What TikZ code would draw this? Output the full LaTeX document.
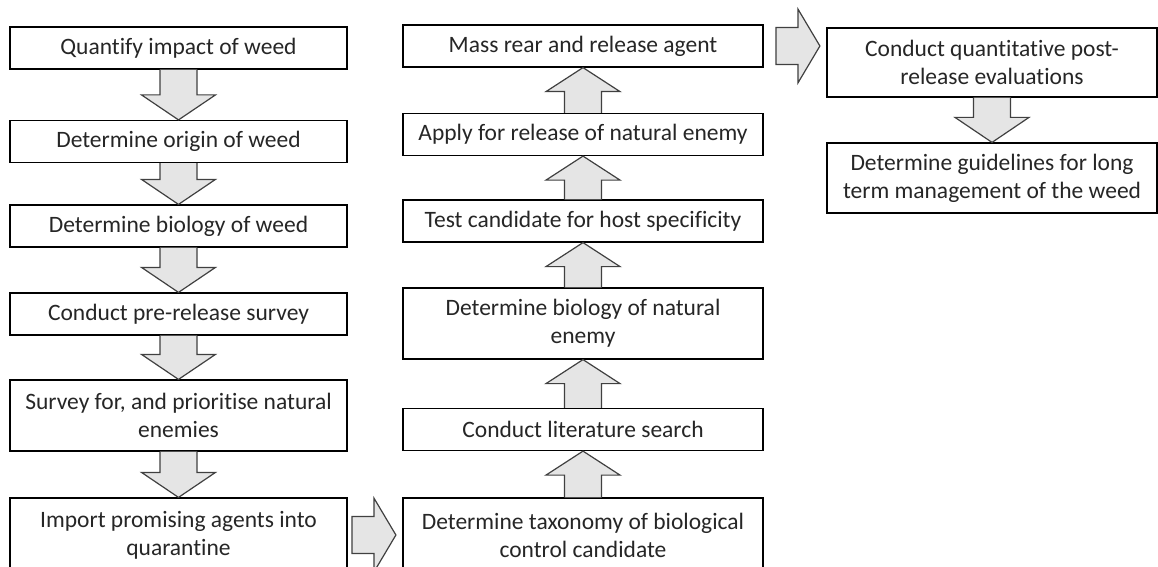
\documentclass[tikz,border=0pt]{standalone}
\usepackage{fontspec}
\setmainfont{Carlito}[Ligatures=NoCommon]
\usetikzlibrary{calc}

\tikzset{
	stage/.style={draw=black, line width=1.2pt, fill=white, align=center,
		minimum height=42pt, inner sep=2pt, text=black!85,
		font=\fontsize{23.5}{28}\selectfont},
	lstage/.style={stage, minimum width=337pt},
	mstage/.style={stage, minimum width=360pt},
	rstage/.style={stage, minimum width=330pt},
	blk/.style={draw=black!75, fill=black!10, line width=1.2pt, line join=miter},
}

% block arrows between boxes
\newcommand{\blkdown}[2]{%
	\filldraw[blk] ($(#1.south)+(-18.5,0)$) -- ($(#2.north)+(-18.5,25)$) -- ($(#2.north)+(-37,25)$)
		-- (#2.north) -- ($(#2.north)+(37,25)$) -- ($(#2.north)+(18.5,25)$) -- ($(#1.south)+(18.5,0)$);}
\newcommand{\blkup}[2]{%
	\filldraw[blk] ($(#1.north)+(-18.5,0)$) -- ($(#2.south)+(-18.5,-24)$) -- ($(#2.south)+(-37,-24)$)
		-- (#2.south) -- ($(#2.south)+(37,-24)$) -- ($(#2.south)+(18.5,-24)$) -- ($(#1.north)+(18.5,0)$);}
\newcommand{\blkright}[2]{%
	\coordinate (tip) at ($(#1.east -| #2.west)+(-6.5,0)$);
	\filldraw[blk] ($(tip)+(-44,18.5)$) -- ($(tip)+(-22,18.5)$) -- ($(tip)+(-22,37)$) -- (tip)
		-- ($(tip)+(-22,-37)$) -- ($(tip)+(-22,-18.5)$) -- ($(tip)+(-44,-18.5)$) -- cycle;}

\begin{document}
\begin{tikzpicture}[x=1pt, y=1pt]
	\useasboundingbox (0,0) rectangle (1158,566);
	\clip (0,0) rectangle (1158,566);

	% left column
	\node[lstage] (qimpact) at (178.5,518) {Quantify impact of weed};
	\node[lstage] (origin) at (178.5,424.5) {Determine origin of weed};
	\node[lstage] (weedbio) at (178.5,340) {Determine biology of weed};
	\node[lstage] (presurvey) at (178.5,252) {Conduct pre-release survey};
	\node[lstage, minimum height=71pt] (prioritise) at (178.5,150.5) {Survey for, and prioritise natural\\enemies};
	\node[lstage, minimum height=74pt] (import) at (178.5,31) {Import promising agents into\\quarantine};

	% middle column
	\node[mstage, minimum height=74pt] (taxonomy) at (583,31) {Determine taxonomy of biological\\control candidate};
	\node[mstage] (litsearch) at (583,136.5) {Conduct literature search};
	\node[mstage, minimum height=71pt] (enemybio) at (583,242.5) {Determine biology of natural\\enemy};
	\node[mstage] (hosttest) at (583,345) {Test candidate for host specificity};
	\node[mstage] (apply) at (583,431.5) {Apply for release of natural enemy};
	\node[mstage] (massrear) at (583,520) {Mass rear and release agent};

	% right column
	\node[rstage, minimum height=69pt] (posteval) at (992,503.5) {Conduct quantitative post-\\release evaluations};
	\node[rstage, minimum height=70pt] (guidelines) at (992,388) {Determine guidelines for long\\term management of the weed};

	\blkdown{qimpact}{origin}
	\blkdown{origin}{weedbio}
	\blkdown{weedbio}{presurvey}
	\blkdown{presurvey}{prioritise}
	\blkdown{prioritise}{import}
	\blkright{import}{taxonomy}

	\blkup{taxonomy}{litsearch}
	\blkup{litsearch}{enemybio}
	\blkup{enemybio}{hosttest}
	\blkup{hosttest}{apply}
	\blkup{apply}{massrear}
	\blkright{massrear}{posteval}

	\blkdown{posteval}{guidelines}
\end{tikzpicture}
\end{document}
